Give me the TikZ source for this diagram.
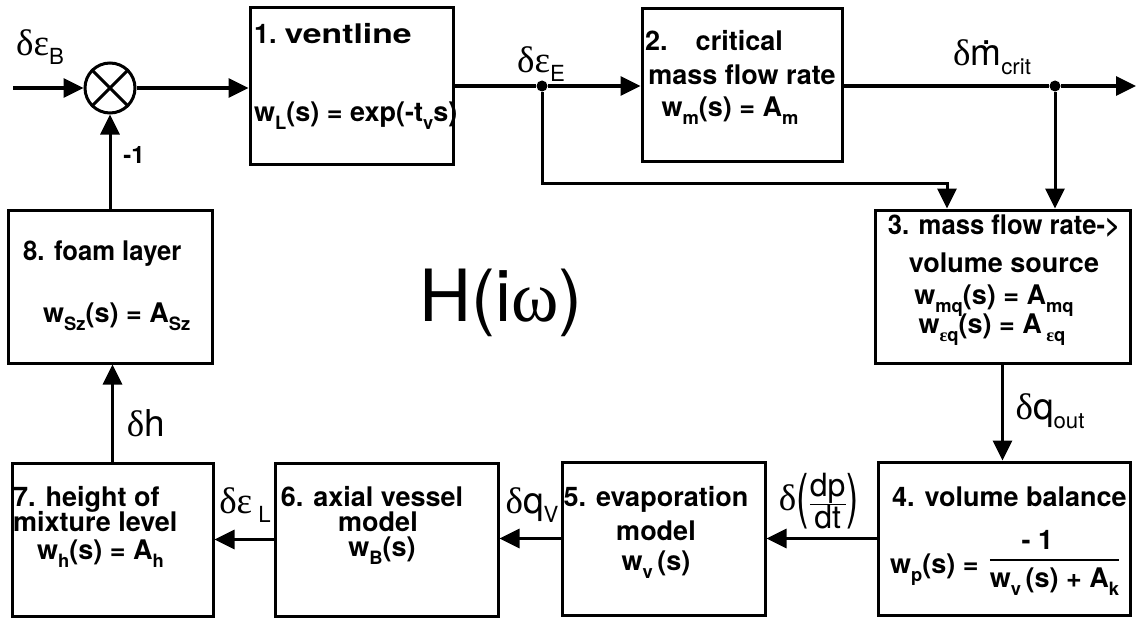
\documentclass[tikz,border=0pt]{standalone}
\usepackage{fontspec}
\usepackage{graphicx}
\setsansfont{TeX Gyre Heros}
\newfontfamily\gk{Liberation Serif}
\usetikzlibrary{arrows.meta}
\newcommand\dn[1]{\raisebox{-0.3em}{\scalebox{0.68}{#1}}}
\newcommand\dnl[1]{\raisebox{-0.25em}{\scalebox{0.6}{#1}}}
\newcommand\mdot{\leavevmode\rlap{\hspace{0.3em}\raisebox{0.55em}{.}}m}
\newcommand\bigpar[1]{\raisebox{-6pt}{\scalebox{1}[1.6]{#1}}}
\begin{document}
\begin{tikzpicture}[x=1pt,y=-1pt,
  blk/.style={draw, line width=3pt, inner sep=0pt},
  tx/.style={font={\sffamily\bfseries\fontsize{27}{30}\selectfont}, inner sep=0pt},
  lab/.style={font={\sffamily\fontsize{37}{40}\selectfont}, inner sep=0pt},
  arr/.style={line width=3pt, -{Triangle[length=20pt,width=19pt]}},
  ln/.style={line width=3pt},
  jdot/.style={circle, fill, inner sep=0pt, minimum size=11pt}]
\useasboundingbox (0,0) rectangle (1138,618);
% blocks
\node[draw, circle, line width=3pt, minimum size=50pt, inner sep=0pt] (sum) at (110,88) {};
\draw[ln] (sum.north west) -- (sum.south east) (sum.north east) -- (sum.south west);
\node[blk, minimum width=203pt, minimum height=156pt] (b1) at (351.5,86) {};
\node[blk, minimum width=200pt, minimum height=152pt] (b2) at (742,85) {};
\node[blk, minimum width=255pt, minimum height=153pt] (b3) at (1002.5,286.5) {};
\node[blk, minimum width=252pt, minimum height=153pt] (b4) at (1004,538.5) {};
\node[blk, minimum width=203pt, minimum height=153pt] (b5) at (663.5,538.5) {};
\node[blk, minimum width=223pt, minimum height=153pt] (b6) at (386.5,539.5) {};
\node[blk, minimum width=201pt, minimum height=153pt] (b7) at (112.5,539.5) {};
\node[blk, minimum width=204pt, minimum height=153pt] (b8) at (110,286.5) {};
% block texts
\node[tx, align=left, anchor=west] (t1) at (254,76) {1.\hspace{8pt}\scalebox{1.25}[1]{ventline}\\[48pt]w\dn{L}(s) = exp(-t\dn{v}s)};
\node[tx, align=center] (t2) at (742,77) {\hspace*{-56pt}2.\hspace{28pt}critical\\[4pt]mass flow rate\\[2pt]\hspace*{-24pt}w\dn{m}(s) = A\dn{m}};
\node[tx, align=center] (t3) at (1004,280) {\scalebox{0.95}[1]{3. mass flow rate-{}>}\\[8pt]volume source\\[2pt]\hspace*{-20pt}w\dn{mq}(s) = A\dn{mq}\\[-4pt]\hspace*{-24pt}w\dn{{\gk ε}q}(s) = A\,\dn{{\gk ε}q}};
\node[tx, anchor=west] (t4a) at (892,497) {4. volume balance};
\node[tx, anchor=west] (t4b) at (890,563) {\raisebox{-7pt}{w\dn{p}(s) =}\hspace{10pt}$\displaystyle{\hspace{-34pt}\mbox{- 1}\above 2pt \mbox{\rule{0pt}{21pt}w\dn{v}\,(s) + A\dn{k}}}$};
\node[tx, align=center] (t5) at (656,532) {5. evaporation\\[4pt]model\\[0pt]w\dn{v}\,(s)};
\node[tx, align=center] (t6) at (372,525) {6. axial vessel\\[-5pt]\hspace*{12pt}model\\[-5pt]\hspace*{20pt}w\dn{B}(s)};
\node[tx, align=left, anchor=west] (t7) at (13,527) {7. height of\\[-5pt]mixture level\\[-2pt]\hspace*{24pt}w\dn{h}(s) = A\dn{h}};
\node[tx, align=left, anchor=west] (t8) at (23,286) {\scalebox{0.95}[1]{8. foam layer}\\[32pt]\hspace*{20pt}w\dn{Sz}(s) = A\dn{Sz}};
% junctions and free ends
\coordinate (in) at (13,88);
\node[jdot] (jE) at (542,86) {};
\node[jdot] (jM) at (1055,86) {};
\coordinate (out) at (1136,86);
\coordinate (bend) at (947,183);
% connectors
\draw[arr] (in) -- (sum.west);
\draw[arr] (sum.east) -- (sum.east -| b1.west);
\draw[ln] (b1.east |- jE) -- (jE);
\draw[arr] (jE) -- (jE -| b2.west);
\draw[ln] (b2.east |- jM) -- (jM);
\draw[arr] (jM) -- (out);
\draw[arr] (jE) |- (bend) -- (bend |- b3.north);
\draw[arr] (jM) -- (jM |- b3.north);
\draw[arr] (b3.south) -- (b3.south |- b4.north);
\draw[arr] (b4.west) -- (b4.west -| b5.east);
\draw[arr] (b5.west) -- (b5.west -| b6.east);
\draw[arr] (b6.west) -- (b6.west -| b7.east);
\draw[arr] (b7.north) -- (b7.north |- b8.south);
\draw[arr] (b8.north) -- (sum.south);
% labels
\node[lab] (lB) at (40,47) {{\gk δε}\dnl{B}};
\node[tx, font={\sffamily\bfseries\fontsize{24}{26}\selectfont}] (lm1) at (134,155) {-1};
\node[lab] (lE) at (541,64) {{\gk δε}\dnl{E}};
\node[lab] (lM) at (992,57) {{\gk δ}\mdot\dnl{crit}};
\node[lab] (lq) at (1050,411) {{\gk δ}q\dnl{out}};
\node[lab] (ldp) at (819,501) {{\gk δ}\bigpar{(}$\frac{\mbox{\fontsize{32}{32}\selectfont dp}}{\mbox{\fontsize{32}{32}\selectfont dt}}$\bigpar{)}};
\node[lab] (lV) at (532,505) {{\gk δ}q\dnl{V}};
\node[lab] (lL) at (245,505) {{\gk δε}\,\dnl{L}};
\node[lab] (lh) at (146,423) {{\gk δ}h};
\node[lab, font={\sffamily\fontsize{72}{72}\selectfont}] (H) at (501,303) {H(i{\gk ω})};
\end{tikzpicture}
\end{document}
